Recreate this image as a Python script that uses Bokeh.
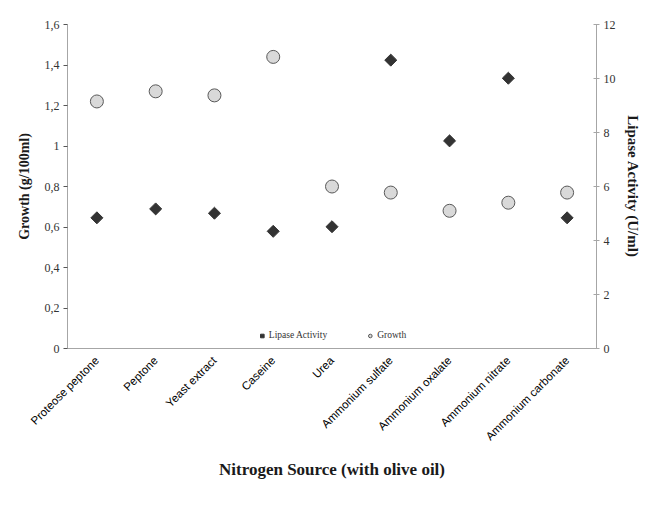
import math
from bokeh.plotting import figure
from bokeh.models import FactorRange, Range1d, LinearAxis, FixedTicker, Legend, LegendItem, ColumnDataSource
from bokeh.embed import file_html
from bokeh.resources import INLINE

categories = ["Proteose peptone", "Peptone", "Yeast extract", "Caseine", "Urea",
              "Ammonium sulfate", "Ammonium oxalate", "Ammonium nitrate", "Ammonium carbonate"]
growth = [1.22, 1.27, 1.25, 1.44, 0.80, 0.77, 0.68, 0.72, 0.77]
lipase = [4.84, 5.17, 5.01, 4.34, 4.51, 10.68, 7.69, 10.01, 4.84]
growth_ticks = [0, 0.2, 0.4, 0.6, 0.8, 1.0, 1.2, 1.4, 1.6]
growth_tick_labels = ["0", "0,2", "0,4", "0,6", "0,8", "1", "1,2", "1,4", "1,6"]
lipase_ticks = [0, 2, 4, 6, 8, 10, 12]

src = ColumnDataSource(dict(cat=categories, growth=growth, lipase=lipase))

p = figure(x_range=FactorRange(*categories), y_range=Range1d(0, 1.6),
           frame_width=529, frame_height=324, output_backend="svg", toolbar_location=None,
           min_border_left=67, min_border_right=50, min_border_top=24, min_border_bottom=0)
p.extra_y_ranges = {"lipase": Range1d(0, 12)}
p.outline_line_color = None
p.xgrid.visible = False
p.ygrid.visible = False
p.background_fill_color = "white"

axis_gray = "#a6a6a6"
serif = "Liberation Serif"

ly = p.yaxis[0]
ly.ticker = FixedTicker(ticks=growth_ticks)
ly.major_label_overrides = dict(zip(growth_ticks, growth_tick_labels))
ly.axis_label = "Growth (g/100ml)"
ly.axis_label_text_font = serif
ly.axis_label_text_font_style = "bold"
ly.axis_label_text_font_size = "14px"
ly.axis_label_text_color = "#1a1a1a"
ly.axis_label_standoff = 10
ly.major_label_text_font = serif
ly.major_label_text_font_size = "12px"
ly.major_label_text_color = "#333333"
ly.major_label_standoff = 4
ly.axis_line_color = axis_gray
ly.major_tick_line_color = "#555555"
ly.major_tick_in = 0
ly.major_tick_out = 4
ly.minor_tick_line_color = None

ry = LinearAxis(y_range_name="lipase", ticker=FixedTicker(ticks=lipase_ticks))
ry.axis_label = "Lipase Activity (U/ml)"
ry.axis_label_text_font = serif
ry.axis_label_text_font_style = "bold"
ry.axis_label_text_font_size = "15px"
ry.axis_label_text_color = "#1a1a1a"
ry.axis_label_standoff = 6
ry.major_label_text_font = serif
ry.major_label_text_font_size = "12px"
ry.major_label_text_color = "#333333"
ry.major_label_standoff = 4
ry.axis_line_color = axis_gray
ry.major_tick_line_color = axis_gray
ry.major_tick_in = 3
ry.major_tick_out = 3
ry.minor_tick_line_color = None
p.add_layout(ry, "right")

xa = p.xaxis[0]
xa.axis_label = "Nitrogen Source (with olive oil)"
xa.axis_label_text_font = serif
xa.axis_label_text_font_style = "bold"
xa.axis_label_text_font_size = "17px"
xa.axis_label_text_color = "#1a1a1a"
xa.axis_label_standoff = 10
xa.major_label_orientation = math.pi / 4
xa.major_label_text_font = "Liberation Sans"
xa.major_label_text_font_size = "11.5px"
xa.major_label_text_color = "#000000"
xa.major_label_standoff = 4
xa.axis_line_color = axis_gray
xa.major_tick_line_color = None
xa.minor_tick_line_color = None

r_gro = p.scatter("cat", "growth", source=src, marker="circle", size=13,
                  fill_color="#d9d9d9", line_color="#595959", line_width=1)
r_lip = p.scatter("cat", "lipase", source=src, marker="square", angle=math.pi / 4, size=8.5,
                  fill_color="#333333", line_color="#333333", y_range_name="lipase")

legend = Legend(items=[LegendItem(label="Lipase Activity", renderers=[r_lip]),
                       LegendItem(label="Growth", renderers=[r_gro])],
                orientation="horizontal", location="bottom_center",
                border_line_color=None, background_fill_alpha=0,
                label_text_font=serif, label_text_font_size="9.5px", label_text_color="#333333",
                glyph_width=9, glyph_height=9, spacing=38, padding=0, margin=8,
                label_standoff=3, label_height=9)
p.add_layout(legend, "center")

open("out.html", "w").write(file_html(p, INLINE))
